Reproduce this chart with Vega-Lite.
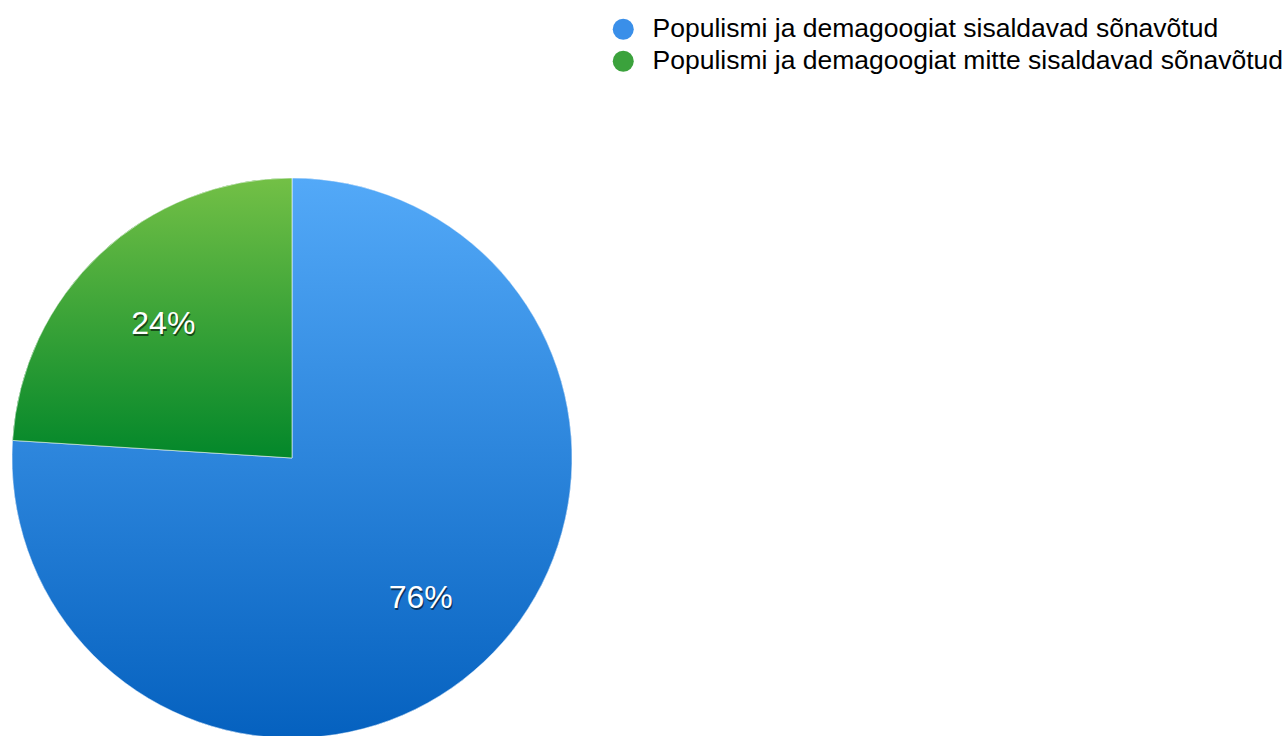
{
  "$schema": "https://vega.github.io/schema/vega-lite/v6.json",
  "width": 560,
  "height": 560,
  "autosize": {"type": "none"},
  "padding": {"left": 12, "top": 178, "right": 716, "bottom": 0},
  "background": "white",
  "config": {"view": {"stroke": null}, "font": "Liberation Sans"},
  "data": {
    "values": [
      {"category": "Populismi ja demagoogiat sisaldavad sõnavõtud", "value": 76, "ord": 1, "label": "76%"},
      {"category": "Populismi ja demagoogiat mitte sisaldavad sõnavõtud", "value": 24, "ord": 2, "label": "24%"}
    ]
  },
  "encoding": {
    "theta": {"field": "value", "type": "quantitative", "stack": true},
    "order": {"field": "ord", "type": "quantitative", "sort": "ascending"}
  },
  "layer": [
    {
      "mark": {"type": "arc", "radius": 280},
      "encoding": {
        "color": {
          "field": "category",
          "type": "nominal",
          "sort": ["Populismi ja demagoogiat sisaldavad sõnavõtud", "Populismi ja demagoogiat mitte sisaldavad sõnavõtud"],
          "scale": {
            "domain": ["Populismi ja demagoogiat sisaldavad sõnavõtud", "Populismi ja demagoogiat mitte sisaldavad sõnavõtud"],
            "range": ["#3a8fe9", "#3ba23c"]
          },
          "legend": {
            "title": null,
            "orient": "none",
            "legendX": 598,
            "legendY": -162,
            "symbolType": "circle",
            "symbolSize": 441,
            "symbolStrokeWidth": 0,
            "labelFontSize": 26.5,
            "labelFont": "Liberation Sans",
            "labelColor": "#000000",
            "labelOffset": 16,
            "labelLimit": 1000,
            "rowPadding": 5
          }
        }
      }
    },
    {
      "mark": {"type": "arc", "radius": 280, "stroke": "#ffffff", "strokeWidth": 0.8, "strokeOpacity": 0.7},
      "encoding": {
        "fill": {
          "condition": {
            "test": "datum.ord == 1",
            "value": {
              "gradient": "linear",
              "x1": 0, "y1": 0, "x2": 0, "y2": 1,
              "stops": [
                {"offset": 0, "color": "#53a9f8"},
                {"offset": 1, "color": "#0561bf"}
              ]
            }
          },
          "value": {
            "gradient": "linear",
            "x1": 0, "y1": 0, "x2": 0, "y2": 1,
            "stops": [
              {"offset": 0, "color": "#73c046"},
              {"offset": 1, "color": "#03872a"}
            ]
          }
        }
      }
    },
    {
      "mark": {"type": "text", "radius": 188, "dx": 1, "dy": 5, "fontSize": 32, "font": "Liberation Sans", "fill": "#000000", "opacity": 0.55, "align": "center", "baseline": "middle"},
      "encoding": {"text": {"field": "label", "type": "nominal"}}
    },
    {
      "mark": {"type": "text", "radius": 188, "dy": 3, "fontSize": 32, "font": "Liberation Sans", "fill": "#ffffff", "align": "center", "baseline": "middle"},
      "encoding": {"text": {"field": "label", "type": "nominal"}}
    }
  ]
}
